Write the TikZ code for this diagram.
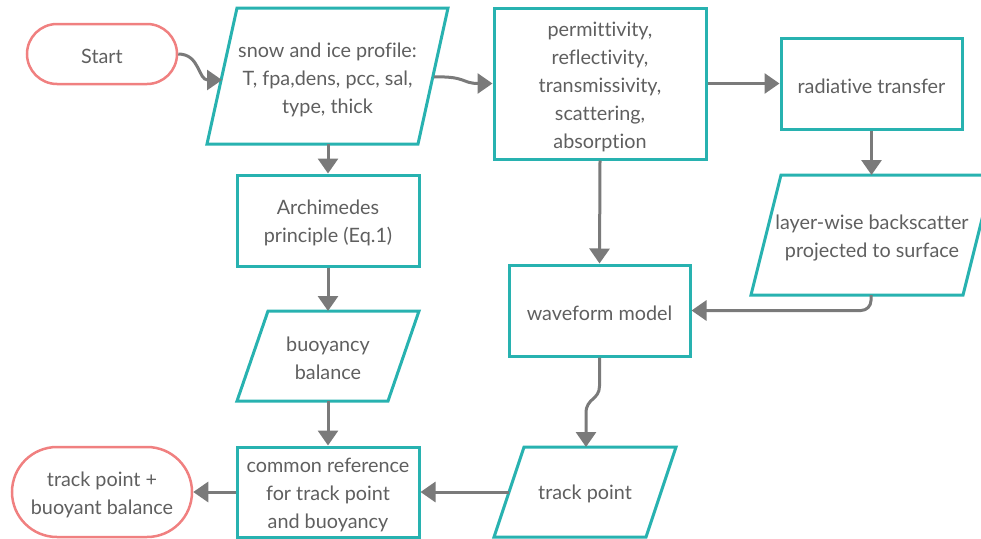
\documentclass[tikz,border=0pt]{standalone}
\usepackage{fontspec}
\setmainfont[Ligatures=NoCommon]{Lato}
\usetikzlibrary{arrows.meta,calc}
\definecolor{tealc}{RGB}{40,178,176}
\definecolor{redc}{RGB}{240,128,128}
\definecolor{arrc}{RGB}{122,122,122}
\definecolor{txtc}{RGB}{95,95,95}
\begin{document}
\begin{tikzpicture}[x=1pt,y=-1pt,
  box/.style={draw=tealc, line width=3pt, inner sep=0pt},
  io/.style={draw=tealc, line width=3pt, line join=miter},
  term/.style={draw=redc, line width=2.5pt, inner sep=0pt},
  txt/.style={text=txtc, font=\fontsize{19.8}{28}\selectfont, align=center, inner sep=0pt},
  arr/.style={draw=arrc, line width=3pt, -{Triangle[width=20pt,length=15pt]}}]
\useasboundingbox (0,0) rectangle (981,538);

% terminals
\node[term, rounded corners=30pt, minimum width=150pt, minimum height=60pt] (start) at (102,54) {};
\node[txt] (startT) at (102,56) {Start};
\node[term, rounded corners=45pt, minimum width=180pt, minimum height=90pt] (final) at (102,492) {};
\node[txt] (finalT) at (102,495) {track point +\\buoyant balance};

% process boxes
\node[box, minimum width=212pt, minimum height=151pt] (perm) at (600,83.5) {};
\node[txt] (permT) at (600,86.5) {permittivity,\\reflectivity,\\transmissivity,\\scattering,\\absorption};
\node[box, minimum width=181pt, minimum height=91pt] (rad) at (871.5,83.5) {};
\node[txt] (radT) at (871.5,86) {radiative transfer};
\node[box, minimum width=182pt, minimum height=91pt] (arch) at (328,220.5) {};
\node[txt] (archT) at (328,223) {Archimedes\\principle (Eq.1)};
\node[box, minimum width=181pt, minimum height=91pt] (wave) at (599.5,310.5) {};
\node[txt] (waveT) at (599.5,313) {waveform model};
\node[box, minimum width=182pt, minimum height=90pt] (common) at (328,492) {};
\node[txt] (commonT) at (328,495) {common reference\\for track point\\and buoyancy};

% input/output parallelograms
\draw[io] (237,8) -- (448,8) -- (418,144) -- (207,144) -- cycle;
\node[txt] (snow) at (327.5,79.5) {snow and ice profile:\\T, fpa,dens, pcc, sal,\\type, thick};
\draw[io] (781,175) -- (993,175) -- (963,295) -- (751,295) -- cycle;
\node[txt] (layer) at (872,238.5) {layer-wise backscatter\\projected to surface};
\draw[io] (268,311) -- (419,311) -- (388,401) -- (237,401) -- cycle;
\node[txt] (buoy) at (328,358.5) {buoyancy\\balance};
\draw[io] (524,447) -- (676,447) -- (646,537) -- (494,537) -- cycle;
\node[txt] (track) at (585,494) {track point};

% connector end points on the slanted shapes
\coordinate (snowW) at (222,80);
\coordinate (snowE) at (434,77);
\coordinate (snowS) at (328,144);
\coordinate (layerN) at (871.5,175);
\coordinate (layerS) at (871,295);
\coordinate (buoyN) at (328,311);
\coordinate (buoyS) at (328,401);
\coordinate (trackN) at (586,447);
\coordinate (trackW) at (509,492);

% connectors
\draw[arr] (start.east) .. controls (200,54) and (198,80) .. (snowW);
\draw[arr] (snowE) .. controls (466,76) and (462,83.5) .. (perm.west);
\draw[arr] (perm.east) -- (rad.west);
\draw[arr] (rad.south) -- (layerN);
\draw[arr, rounded corners=10pt] (layerS) |- (wave.east);
\draw[arr] (perm.south) -- (wave.north);
\draw[arr] (wave.south) -- (599.5,386) .. controls (599.5,400) and (586,398) .. (586,413) -- (trackN);
\draw[arr] (trackW) -- (common.east);
\draw[arr] (snowS) -- (arch.north);
\draw[arr] (arch.south) -- (buoyN);
\draw[arr] (buoyS) -- (common.north);
\draw[arr] (common.west) -- (final.east);
\end{tikzpicture}
\end{document}
